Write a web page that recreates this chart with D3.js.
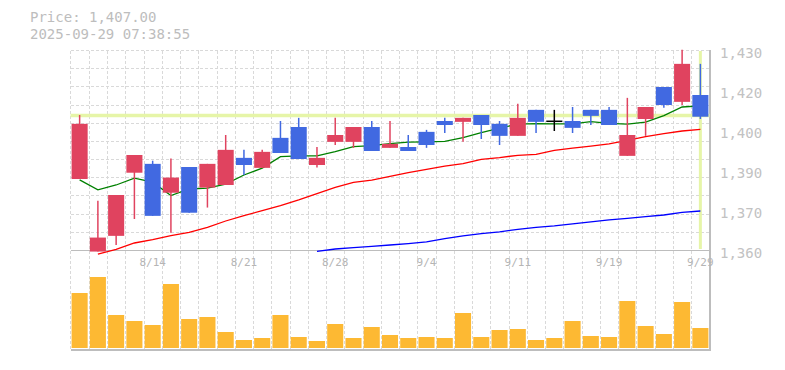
<!DOCTYPE html>
<html>
<head>
<meta charset="utf-8">
<script src="https://cdn.jsdelivr.net/npm/d3@7"></script>
<style>
  body { margin: 0; background: #fff; }
  svg { display: block; }
</style>
</head>
<body>
<svg id="chart"></svg>
<script>
// Chart data
const dates = ["8/7", "8/8", "8/12", "8/13", "8/14", "8/15", "8/18", "8/19", "8/20", "8/21",
  "8/22", "8/25", "8/26", "8/27", "8/28", "8/29", "9/1", "9/2", "9/3", "9/4",
  "9/5", "9/8", "9/9", "9/10", "9/11", "9/12", "9/16", "9/17", "9/18", "9/19",
  "9/22", "9/24", "9/25", "9/26", "9/29"];
const opens = [1385.2, 1359.8, 1365.3, 1387.4, 1390.5, 1380.4, 1389.4, 1382.2, 1383.1, 1392.6,
  1389.1, 1399.6, 1403.4, 1390.1, 1398.2, 1398.2, 1403.4, 1396.1, 1396.4, 1401.7,
  1405.5, 1405.2, 1407.6, 1404.5, 1400.3, 1409.4, 1405.4, 1405.5, 1409.4, 1409.4,
  1393.3, 1406.2, 1417.4, 1412.2, 1414.6];
const highs = [1407.6, 1377.6, 1379.6, 1393.6, 1391.6, 1392.4, 1389.4, 1390.5, 1400.6, 1395.4,
  1395.4, 1405.5, 1406.6, 1396.4, 1406.6, 1403.4, 1405.5, 1405.5, 1400.6, 1402.4,
  1406.6, 1406.6, 1407.6, 1405.5, 1411.5, 1409.4, 1409.4, 1410.4, 1409.4, 1410.4,
  1413.6, 1410.4, 1417.4, 1430.4, 1425.5];
const lows = [1385.2, 1359.8, 1362.1, 1371.2, 1372.3, 1366.4, 1373.4, 1375.2, 1383.1, 1386.6,
  1389.1, 1394.3, 1392.2, 1389.2, 1397.1, 1396.1, 1395.0, 1396.1, 1395.0, 1396.1,
  1401.3, 1398.2, 1399.2, 1397.1, 1400.3, 1401.3, 1402.0, 1401.3, 1404.1, 1404.1,
  1393.3, 1400.3, 1410.1, 1411.1, 1406.2];
const closes = [1404.5, 1364.7, 1379.6, 1393.6, 1372.3, 1385.7, 1373.4, 1390.5, 1395.4, 1390.1,
  1394.7, 1394.3, 1392.2, 1392.6, 1400.6, 1403.4, 1395.0, 1397.5, 1395.0, 1397.1,
  1404.1, 1406.6, 1404.1, 1400.3, 1406.6, 1405.2, 1405.4, 1403.1, 1407.3, 1404.1,
  1400.6, 1410.4, 1411.1, 1425.5, 1407.0];
const ma5 = [1384.9, 1381.4, 1383.1, 1385.5, 1384.1, 1379.4, 1381.7, 1382.0, 1383.4, 1386.6,
  1389.0, 1393.0, 1393.3, 1393.3, 1394.8, 1396.5, 1396.9, 1397.6, 1398.1, 1398.2,
  1398.4, 1399.7, 1401.4, 1403.0, 1404.4, 1404.6, 1404.5, 1404.5, 1405.3, 1404.7,
  1404.4, 1405.1, 1407.4, 1410.4, 1410.8];
const ma25 = [null, 1358.9, 1360.6, 1362.8, 1364.0, 1365.4, 1366.5, 1368.3, 1370.5, 1372.4,
  1374.1, 1375.9, 1377.9, 1380.1, 1382.3, 1384.0, 1384.8, 1386.1, 1387.4, 1388.6,
  1389.7, 1390.6, 1392.1, 1392.7, 1393.5, 1393.8, 1395.2, 1396.0, 1396.7, 1397.5,
  1398.7, 1400.0, 1401.1, 1402.0, 1402.6];
const ma75 = [null, null, null, null, null, null, null, null, null, null,
  null, null, null, 1359.9, 1360.7, 1361.2, 1361.6, 1362.1, 1362.6, 1363.2,
  1364.3, 1365.3, 1366.1, 1366.7, 1367.6, 1368.3, 1368.8, 1369.5, 1370.2, 1370.9,
  1371.4, 1372.0, 1372.6, 1373.5, 1374.0];
const volumes = [550, 710, 330, 270, 230, 640, 290, 310, 160, 80,
  100, 330, 110, 70, 240, 100, 210, 130, 100, 110,
  100, 350, 110, 180, 190, 80, 100, 270, 120, 110,
  470, 220, 140, 460, 200];
const priceTicks = [1430, 1416, 1402, 1388, 1374, 1360];
const dateTicks = ["8/14", "8/21", "8/28", "9/4", "9/11", "9/19", "9/29"];
const lastPrice = 1407;
const stamp = "2025-09-29 07:38:55";

const W = 785, H = 370;
const plotLeft = 70.5, plotRight = 709.5;
const priceTop = 51, priceBottom = 251;
const volTop = 268, volBottom = 348;

const candles = dates.map((d, i) => ({
  date: d, open: opens[i], high: highs[i], low: lows[i], close: closes[i],
  vol: volumes[i], ma5: ma5[i], ma25: ma25[i], ma75: ma75[i]
}));

const svg = d3.select("#chart").attr("width", W).attr("height", H);

const x = d3.scaleBand()
  .domain(dates)
  .range([plotLeft, plotRight])
  .paddingInner(0.12)
  .paddingOuter(0.06);
const cx = (d) => x(d) + x.bandwidth() / 2;
const step = x.step();

const y = d3.scaleLinear().domain([1360, 1430]).range([priceBottom, priceTop]);
const yv = d3.scaleLinear().domain([0, 800]).range([volBottom, volTop]);

const grid = svg.append("g")
  .attr("stroke", "#d9d9d9")
  .attr("stroke-dasharray", "3,2")
  .attr("shape-rendering", "crispEdges");

// vertical grid at band boundaries
grid.selectAll("line.v")
  .data(dates)
  .enter()
  .append("line")
  .attr("x1", (d) => Math.round(x(d) - x.paddingInner() * step / 2) + 0.5)
  .attr("x2", (d) => Math.round(x(d) - x.paddingInner() * step / 2) + 0.5)
  .attr("y1", priceTop - 0.5)
  .attr("y2", volBottom + 2);

// horizontal grid in price panel
const hLines = d3.range(11).map((i) => 1360 + (i * 70) / 11 + 70 / 11);
grid.selectAll("line.h")
  .data(hLines)
  .enter()
  .append("line")
  .attr("x1", plotLeft)
  .attr("x2", plotRight)
  .attr("y1", (d) => Math.round(y(d)) - 0.5)
  .attr("y2", (d) => Math.round(y(d)) - 0.5);

// axis lines
const axisG = svg.append("g").attr("stroke", "#bdbdbd").attr("shape-rendering", "crispEdges");
axisG.append("line").attr("x1", plotLeft).attr("x2", plotRight + 1)
  .attr("y1", priceBottom - 0.5).attr("y2", priceBottom - 0.5).attr("stroke-width", 1.5);
axisG.append("line").attr("x1", plotLeft).attr("x2", plotRight + 1)
  .attr("y1", volBottom + 1.5).attr("y2", volBottom + 1.5).attr("stroke-width", 2);
axisG.append("line").attr("x1", plotRight + 0.5).attr("x2", plotRight + 0.5)
  .attr("y1", priceTop - 1).attr("y2", volBottom + 2).attr("stroke-width", 1.5);

// current price markers
const last = candles[candles.length - 1];
svg.append("line")
  .attr("x1", plotLeft).attr("x2", plotRight)
  .attr("y1", y(lastPrice) - 1.2).attr("y2", y(lastPrice) - 1.2)
  .attr("stroke", "#e6f5a8").attr("stroke-width", 3.5);
svg.append("line")
  .attr("x1", cx(last.date)).attr("x2", cx(last.date))
  .attr("y1", priceTop).attr("y2", priceBottom - 2)
  .attr("stroke", "#e6f5a8").attr("stroke-width", 3);

// moving averages
const maLine = (key) => d3.line()
  .defined((d) => d[key] != null)
  .x((d) => cx(d.date))
  .y((d) => y(d[key]));
[["ma75", "#0000ff"], ["ma25", "#ff0000"], ["ma5", "#008000"]].forEach(([k, c]) => {
  svg.append("path")
    .datum(candles)
    .attr("fill", "none")
    .attr("stroke", c)
    .attr("stroke-width", 1.3)
    .attr("d", maLine(k));
});

// candles
const candleColor = (d) => d.close > d.open ? "#e0435f" : d.close < d.open ? "#4169e1" : "#000";
const cg = svg.append("g");
cg.selectAll("line.wick")
  .data(candles)
  .enter()
  .append("line")
  .attr("x1", (d) => cx(d.date))
  .attr("x2", (d) => cx(d.date))
  .attr("y1", (d) => y(d.high))
  .attr("y2", (d) => y(d.low))
  .attr("stroke", candleColor)
  .attr("stroke-width", 1.5);
cg.selectAll("rect.body")
  .data(candles.filter((d) => d.open !== d.close))
  .enter()
  .append("rect")
  .attr("x", (d) => x(d.date))
  .attr("width", x.bandwidth())
  .attr("y", (d) => y(Math.max(d.open, d.close)))
  .attr("height", (d) => Math.max(1, Math.abs(y(d.open) - y(d.close))))
  .attr("fill", candleColor);
cg.selectAll("line.doji")
  .data(candles.filter((d) => d.open === d.close))
  .enter()
  .append("line")
  .attr("x1", (d) => x(d.date))
  .attr("x2", (d) => x(d.date) + x.bandwidth())
  .attr("y1", (d) => y(d.close))
  .attr("y2", (d) => y(d.close))
  .attr("stroke", "#000")
  .attr("stroke-width", 1.5);

// volume
svg.append("g")
  .selectAll("rect")
  .data(candles)
  .enter()
  .append("rect")
  .attr("x", (d) => x(d.date))
  .attr("width", x.bandwidth())
  .attr("y", (d) => yv(d.vol))
  .attr("height", (d) => yv(0) - yv(d.vol))
  .attr("fill", "#fdb933");

// price labels
svg.append("g")
  .selectAll("text")
  .data(priceTicks)
  .enter()
  .append("text")
  .attr("x", 720)
  .attr("y", (d) => y(d) + 6.5)
  .attr("fill", "#c2c2c2")
  .attr("font-family", "DejaVu Sans Mono, monospace")
  .attr("font-size", 14)
  .text((d) => d3.format(",")(Math.round(d / 10) * 10));

// date labels
svg.append("g")
  .selectAll("text")
  .data(dateTicks)
  .enter()
  .append("text")
  .attr("x", (d) => cx(d))
  .attr("y", 265.5)
  .attr("text-anchor", "middle")
  .attr("fill", "#b5b5b5")
  .attr("font-family", "DejaVu Sans Mono, monospace")
  .attr("font-size", 11)
  .text((d) => d);

// header
const header = svg.append("g")
  .attr("fill", "#bdbdbd")
  .attr("font-family", "DejaVu Sans Mono, monospace")
  .attr("font-size", 14);
header.append("text").attr("x", 30).attr("y", 22)
  .text("Price: " + d3.format(",.2f")(lastPrice));
header.append("text").attr("x", 30).attr("y", 38.5).text(stamp);
</script>
</body>
</html>
